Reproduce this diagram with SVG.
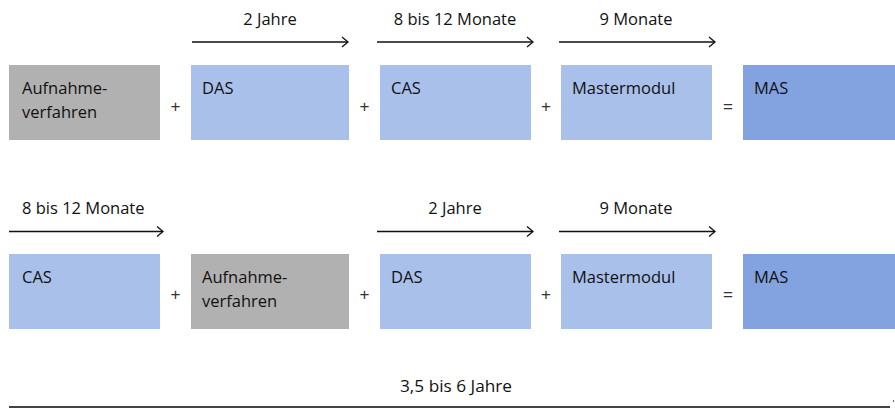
<svg xmlns="http://www.w3.org/2000/svg" width="895" height="413" viewBox="0 0 895 413">
<style>
text{font-family:"Open Sans","Noto Sans",sans-serif;font-size:16.5px;fill:#111}
.g{fill:#b1b1b1}.b{fill:#a9c0ea}.m{fill:#82a3e0}
.c{text-anchor:middle}
.op{font-family:"Liberation Sans","DejaVu Sans",sans-serif;font-size:17px;fill:#333;text-anchor:middle}
.ar{stroke:#111;stroke-width:1.3;fill:none}
</style>
<defs>
<marker id="ah" markerWidth="10" markerHeight="12" refX="8" refY="6" orient="auto" markerUnits="userSpaceOnUse">
<path d="M2,1 L8,6 L2,11" fill="none" stroke="#111" stroke-width="1.3"/>
</marker>
</defs>
<g id="row1">
<g id="n1"><rect class="g" x="9" y="65" width="151" height="75"/><text x="22" y="94">Aufnahme-</text><text x="22" y="118">verfahren</text></g>
<g id="n2"><rect class="b" x="191" y="65" width="158" height="75"/><text x="202" y="94">DAS</text></g>
<g id="n3"><rect class="b" x="380" y="65" width="151" height="75"/><text x="391" y="94">CAS</text></g>
<g id="n4"><rect class="b" x="561" y="65" width="151" height="75"/><text x="572" y="94">Mastermodul</text></g>
<g id="n5"><rect class="m" x="743" y="65" width="152" height="75"/><text x="754" y="94">MAS</text></g>
<text class="op" x="175.5" y="112">+</text><text class="op" x="364.5" y="112">+</text><text class="op" x="546" y="112">+</text><text class="op" x="728" y="112">=</text>
<text class="c" x="270" y="25">2 Jahre</text>
<text class="c" x="455" y="25">8 bis 12 Monate</text>
<text class="c" x="636" y="25">9 Monate</text>
</g>
<g id="row2">
<g id="m1"><rect class="b" x="9" y="254" width="151" height="75"/><text x="22" y="283">CAS</text></g>
<g id="m2"><rect class="g" x="191" y="254" width="158" height="75"/><text x="202" y="283">Aufnahme-</text><text x="202" y="307">verfahren</text></g>
<g id="m3"><rect class="b" x="380" y="254" width="151" height="75"/><text x="391" y="283">DAS</text></g>
<g id="m4"><rect class="b" x="561" y="254" width="151" height="75"/><text x="572" y="283">Mastermodul</text></g>
<g id="m5"><rect class="m" x="743" y="254" width="152" height="75"/><text x="754" y="283">MAS</text></g>
<text class="op" x="175.5" y="300">+</text><text class="op" x="364.5" y="300">+</text><text class="op" x="546" y="300">+</text><text class="op" x="728" y="300">=</text>
<text x="22" y="214">8 bis 12 Monate</text>
<text class="c" x="455" y="214">2 Jahre</text>
<text class="c" x="636" y="214">9 Monate</text>
</g>
<g id="connectors">
<line class="ar" x1="192" y1="42" x2="348" y2="42" marker-end="url(#ah)"/>
<line class="ar" x1="377" y1="42" x2="533" y2="42" marker-end="url(#ah)"/>
<line class="ar" x1="559" y1="42" x2="715" y2="42" marker-end="url(#ah)"/>
<line class="ar" x1="9" y1="231.5" x2="163" y2="231.5" marker-end="url(#ah)"/>
<line class="ar" x1="377" y1="231.5" x2="533" y2="231.5" marker-end="url(#ah)"/>
<line class="ar" x1="559" y1="231.5" x2="715" y2="231.5" marker-end="url(#ah)"/>
</g>
<g id="total">
<text class="c" x="456" y="392" textLength="112" lengthAdjust="spacingAndGlyphs" style="font-size:17px">3,5 bis 6 Jahre</text>
<rect x="9" y="406" width="881" height="2" fill="#444"/>
<rect x="893" y="400" width="1" height="2" fill="#666"/>
</g>
</svg>
